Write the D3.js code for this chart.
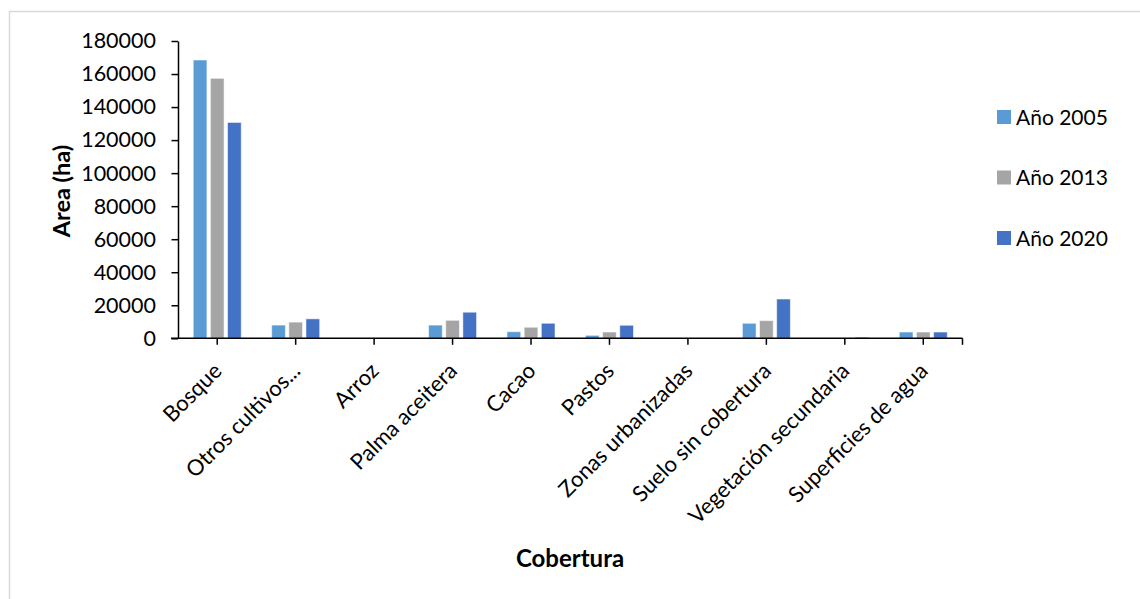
<!DOCTYPE html>
<html>
<head>
<meta charset="utf-8">
<script src="https://cdn.jsdelivr.net/npm/d3@7"></script>
<style>
  html, body { margin: 0; padding: 0; background: #fff; }
  svg { display: block; }
  text { font-family: Lato, "Open Sans", sans-serif; fill: #000; }
</style>
</head>
<body>
<svg id="chart" width="1140" height="599"></svg>
<script>
const categories = ["Bosque", "Otros cultivos...", "Arroz", "Palma aceitera", "Cacao", "Pastos",
  "Zonas urbanizadas", "Suelo sin cobertura", "Vegetación secundaria", "Superficies de agua"];
const seriesNames = ["Año 2005", "Año 2013", "Año 2020"];
const values2005 = [168500, 8000, 0, 8000, 4000, 1800, 0, 9100, 100, 3800];
const values2013 = [157400, 9800, 0, 10900, 6700, 3800, 0, 10700, 200, 3800];
const values2020 = [130700, 11800, 0, 15800, 9100, 7900, 0, 23800, 700, 3800];
const seriesColors = ["#5B9BD5", "#A5A5A5", "#4472C4"];
const yTicks = [0, 20000, 40000, 60000, 80000, 100000, 120000, 140000, 160000, 180000];

const seriesValues = [values2005, values2013, values2020];
const svg = d3.select("#chart");

// outer chart border
svg.append("rect").attr("x", 9.5).attr("y", 11.5).attr("width", 1140).attr("height", 600)
  .attr("fill", "none").attr("stroke", "#d9d9d9").attr("stroke-width", 1.5);

const plot = { left: 178, right: 962.5, top: 41, bottom: 338.3 };

const x0 = d3.scaleBand().domain(categories).range([plot.left, plot.right]).padding(0);
const x1 = d3.scaleBand().domain(seriesNames)
  .range([x0.bandwidth() * 0.194, x0.bandwidth() * 0.806]).paddingInner(0.2);
const y = d3.scaleLinear().domain([0, 180000]).range([plot.bottom, plot.top]);

// bars
const groups = svg.append("g").selectAll("g").data(categories).join("g")
  .attr("transform", d => `translate(${x0(d)},0)`);
groups.selectAll("rect")
  .data((c, i) => seriesNames.map((s, j) => ({ s, j, v: seriesValues[j][i] })))
  .join("rect")
  .attr("x", d => x1(d.s))
  .attr("width", x1.bandwidth())
  .attr("y", d => y(d.v))
  .attr("height", d => plot.bottom - y(d.v))
  .attr("fill", d => seriesColors[d.j])
  .attr("stroke", "#ffffff").attr("stroke-opacity", 0.55).attr("stroke-width", 1);

// y axis
const yAxis = d3.axisLeft(y).tickValues(yTicks).tickSize(6.5).tickSizeOuter(0)
  .tickFormat(d3.format("d"));
const gy = svg.append("g").attr("transform", `translate(${plot.left},0)`).call(yAxis);
gy.select(".domain").attr("stroke", "#000").attr("stroke-width", 1.5);
gy.selectAll(".tick line").attr("stroke", "#000").attr("stroke-width", 1.5);
gy.selectAll(".tick text").attr("x", -22).attr("font-size", 21.5)
  .style("font-family", "Lato, sans-serif").attr("fill", "#000");

// x axis
const xAxis = d3.axisBottom(x0).tickSize(6.5).tickSizeOuter(0).tickFormat("");
const gx = svg.append("g").attr("transform", `translate(0,${plot.bottom})`).call(xAxis);
gx.select(".domain").remove();
gx.append("line").attr("x1", plot.left - 7).attr("x2", plot.right)
  .attr("stroke", "#000").attr("stroke-width", 1.5);
gx.append("line").attr("x1", plot.right).attr("x2", plot.right).attr("y1", 0).attr("y2", 6.5)
  .attr("stroke", "#000").attr("stroke-width", 1.5);
gx.selectAll(".tick line").attr("stroke", "#000").attr("stroke-width", 1.5);

// category labels, rotated
svg.append("g").selectAll("text").data(categories).join("text")
  .attr("transform", d => `translate(${x0(d) + x0.bandwidth() / 2 + 6},${plot.bottom + 34}) rotate(-45)`)
  .attr("text-anchor", "end")
  .attr("font-size", 22)
  .text(d => d);

// axis titles
svg.append("text")
  .attr("transform", `translate(70,191) rotate(-90)`)
  .attr("text-anchor", "middle")
  .attr("font-size", 23.5).attr("font-weight", "bold")
  .text("Area (ha)");
svg.append("text")
  .attr("x", 570).attr("y", 567)
  .attr("text-anchor", "middle")
  .attr("font-size", 24).attr("font-weight", "bold")
  .text("Cobertura");

// legend
const legend = svg.append("g").selectAll("g").data(seriesNames).join("g")
  .attr("transform", (d, i) => `translate(997,${117 + i * 60.5})`);
legend.append("rect").attr("x", 0).attr("y", -7).attr("width", 14).attr("height", 14)
  .attr("fill", (d, i) => seriesColors[i]);
legend.append("text").attr("x", 19).attr("y", 7.5).attr("font-size", 21).text(d => d);
</script>
</body>
</html>
